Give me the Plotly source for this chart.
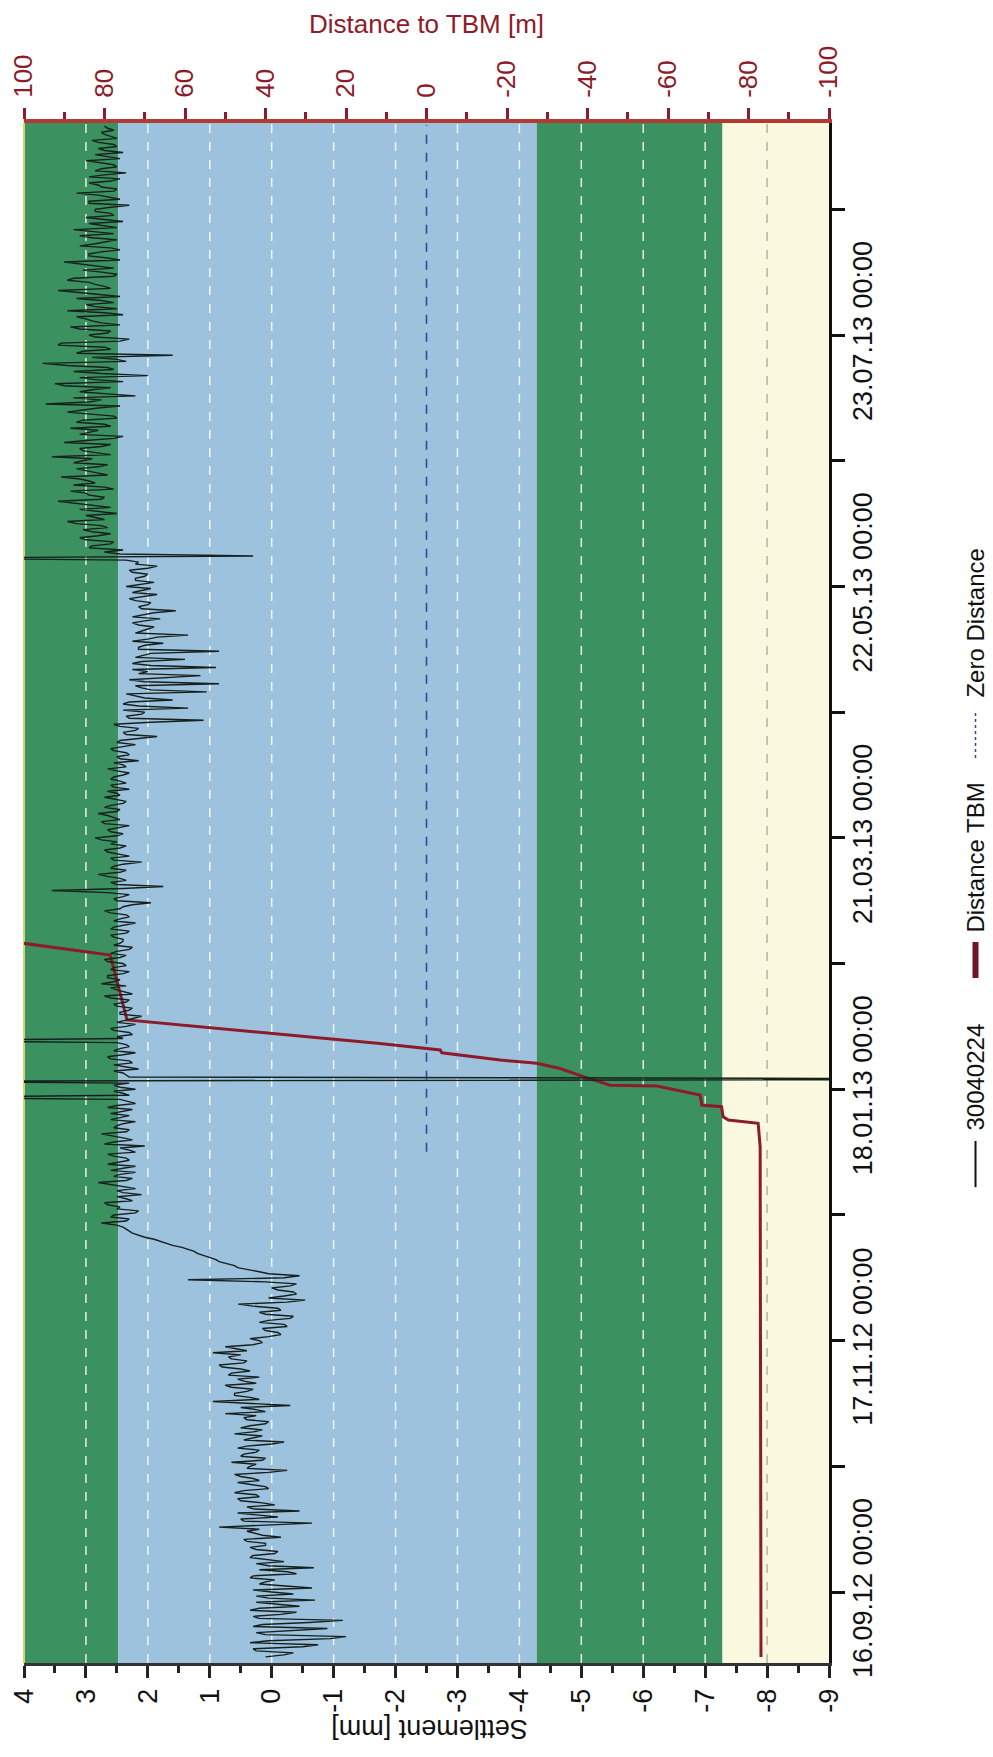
import plotly.graph_objects as go
import pandas as pd

FONT = "Liberation Sans, Arial, sans-serif"

# ---------------- data ----------------
origin = pd.Timestamp("2012-09-16")

# settlement readings of point 30040224 [mm]: 00:00 readings, one per day from 31.08.2012
settle_start = "2012-08-31"
settle_a = [0.10, -0.35, 0.30, -0.75, 0.05, -1.20, 0.25, -0.90, 0.15, -1.15, 0.30, -0.40, 0.20, -0.10, -0.70, 0.25,
            0.00, -0.65, 0.20, -0.05, 0.30, -0.25, -0.68, 0.25, 0.05, 0.30, -0.10, 0.35, 0.10, 0.45, 0.15, 0.40]
settle_b = [0.85, -0.65, 0.50, 0.20, -0.45, 0.40, 0.15, 0.55, 0.25, 0.45, 0.10, 0.55, 0.30, 0.60, -0.25, 0.35,
            0.65, 0.10, 0.45, 0.20, 0.40, -0.20, 0.30, 0.60, 0.15, 0.35, 0.05, 0.45, 0.75, 0.25, -0.30, 0.95]
settle_c = [0.35, 0.60, 0.30, 0.75, 0.45, 0.20, 0.65, 0.50, 0.85, 0.40, 0.70, 0.95, 0.55, 0.30, 0.20, 0.05]
settle_d = [-0.10, 0.15, -0.20, 0.05, -0.35, 0.20, -0.10, 0.54, -0.54, -0.20, -0.35, 0.00, -0.40, 1.35, -0.45]
settle_e = [0.20, 0.55, 0.75, 0.90, 1.10, 1.25, 1.45, 1.70, 1.90, 2.15, 2.30, 2.40]
settle_f = [2.75, 2.30, 2.55, 2.15, 2.45, 2.70, 2.35, 2.10, 2.50, 2.40, 2.80, 2.25, 2.45, 2.60, 2.20, 2.50,
            2.35, 2.65, 2.30, 2.05, 2.55, 2.40, 2.75, 2.30, 2.50, 2.20, 2.45, 2.60, 2.25, 2.50, 2.35, 6.00,
            2.40, 2.20, 2.55, 6.00, 2.30]
settle_g = [2.40, 2.15, 2.55, 2.30, 2.65, 2.20, 2.45, 2.35, 6.00, 2.50, 2.30, 2.60, 2.20, 2.35, 2.10, 2.45,
            2.25, 2.55, 2.30, 2.70, 2.40, 2.60, 2.75, 2.45, 2.65, 2.30, 2.55, 2.40, 2.70, 2.35, 2.50, 2.25, 2.45]
settle_h = [2.40, 2.60, 2.30, 2.55, 2.20, 2.45, 2.35, 2.70, 2.40, 1.95, 2.55, 2.30, 3.55, 1.75, 2.60, 2.45,
            2.80, 2.35, 2.55, 2.10, 2.60, 2.45, 2.70, 2.35, 2.50, 2.85, 2.40, 2.65, 2.30, 2.75, 2.55, 2.80,
            2.45, 2.60, 2.35, 2.70, 2.50, 2.30, 2.60, 2.45]
settle_i = [2.55, 2.30, 2.65, 2.40, 2.15, 2.50, 2.35, 2.60, 2.20, 2.45, 1.85, 2.40, 2.15, 2.55, 1.10, 2.35,
            2.05, 1.35, 2.40, 1.60, 2.20, 1.05, 2.10, 0.85, 2.30, 1.15, 2.00, 0.90, 2.25, 1.40, 2.05, 0.85,
            2.15, 1.75, 2.00, 1.35, 2.10, 1.90, 2.25, 1.80, 2.05, 1.55, 2.15, 1.95, 2.30, 1.85, 2.10, 2.35,
            1.90, 2.20, 2.00, 2.30, 1.85, 2.15, 6.00, 2.45, 2.40, 2.90, 2.55, 3.10]
settle_j = [2.60, 3.05, 2.75, 3.30, 2.85, 2.50, 3.10, 2.90, 3.45, 2.70, 3.00, 2.55, 3.20, 2.95, 3.40, 2.80,
            3.15, 2.65, 3.05, 3.55, 2.85, 3.10, 2.60, 3.00, 2.40, 2.95, 3.25, 2.70, 3.05, 2.55, 3.30, 2.80,
            3.65, 2.75, 2.20, 3.10, 2.60, 3.50, 2.85, 2.00, 3.20, 2.65, 3.70, 2.50, 1.60, 3.05, 2.70, 3.40,
            2.30, 2.95, 2.60, 3.25, 2.75, 3.00, 2.40, 3.30, 2.85, 2.55, 3.15, 2.80, 3.45, 2.70, 2.95, 3.20,
            2.50, 3.05, 2.85, 3.35, 2.65, 2.95, 2.45, 3.10, 2.70, 2.90, 2.55, 3.20, 2.75, 2.40, 3.00, 2.60,
            2.85, 2.30, 2.95, 2.65, 3.15, 2.50, 2.80, 2.60, 2.95, 2.35, 2.75, 2.55, 3.00, 2.65, 2.40, 2.80,
            2.55, 2.90, 2.60, 2.75, 2.65]

# 12:00 readings, one per day from 31.08.2012
noon_a = [-0.20, 0.25, -0.50, 0.35, -0.95, 0.10, -0.30, 0.30, -0.60, 0.20, -0.15, 0.35, -0.45, 0.25, 0.05, -0.35,
          0.30, -0.15, 0.10, 0.35, -0.40, 0.20, 0.05, -0.20, 0.35, -0.05, 0.25, 0.10, 0.40, -0.15, 0.30, 0.20]
noon_b = [0.10, 0.45, -0.10, 0.55, 0.30, -0.05, 0.50, 0.20, 0.60, 0.05, 0.35, 0.20, 0.50, 0.05, 0.40, 0.25,
          0.15, 0.50, 0.25, 0.55, 0.00, 0.45, 0.15, 0.30, 0.50, 0.10, 0.40, 0.25, 0.10, 0.50, 0.40, 0.20]
noon_c = [0.60, 0.40, 0.65, 0.25, 0.55, 0.70, 0.35, 0.80, 0.45, 0.65, 0.50, 0.40, 0.75, 0.15, 0.35, -0.15]
noon_d = [0.10, -0.25, 0.20, -0.30, 0.10, -0.15, 0.30, -0.25, 0.05, -0.40, -0.10, -0.30, 0.10, -0.20, 0.05]
noon_e = [0.40, 0.60, 0.85, 1.00, 1.20, 1.35, 1.60, 1.80, 2.05, 2.25, 2.35, 2.50]
noon_f = [2.35, 2.60, 2.20, 2.50, 2.65, 2.25, 2.50, 2.40, 2.20, 2.60, 2.35, 2.55, 2.20, 2.40, 2.65, 2.30,
          2.55, 2.20, 2.45, 2.70, 2.25, 2.60, 2.35, 2.55, 2.40, 2.60, 2.30, 2.40, 2.65, 2.20, 2.45, 2.30,
          2.55, 2.45, 2.30, -15.0, 2.35]
noon_g = [2.55, 2.35, 2.25, 2.60, 2.40, 2.55, 2.30, 2.50, 2.40, 2.25, 2.55, 2.35, 2.50, 2.20, 2.45, 2.30,
          2.50, 2.35, 2.60, 2.25, 2.50, 2.35, 2.55, 2.65, 2.40, 2.60, 2.35, 2.65, 2.45, 2.60, 2.30, 2.55, 2.40]
noon_h = [2.55, 2.35, 2.60, 2.40, 2.55, 2.30, 2.60, 2.45, 2.25, 2.50, 2.40, 2.65, 2.40, 2.50, 2.35, 2.65,
          2.45, 2.60, 2.40, 2.55, 2.30, 2.65, 2.45, 2.60, 2.75, 2.50, 2.60, 2.45, 2.70, 2.45, 2.65, 2.50,
          2.70, 2.40, 2.55, 2.45, 2.65, 2.55, 2.35, 2.60]
noon_i = [2.40, 2.50, 2.35, 2.55, 2.45, 2.30, 2.55, 2.40, 2.50, 2.15, 2.35, 2.20, 2.45, 1.95, 2.30, 2.10,
          2.40, 2.15, 2.30, 2.05, 2.35, 1.95, 2.20, 2.05, 1.80, 2.15, 2.25, 1.95, 2.10, 2.20, 1.95, 2.15,
          2.05, 2.25, 1.85, 2.20, 2.00, 2.15, 2.05, 2.25, 1.90, 2.10, 2.00, 2.20, 2.05, 2.25, 1.95, 2.10,
          2.20, 2.05, 2.25, 2.00, 2.20, 2.35, 0.30, 2.70, 2.95, 2.60, 3.00, 2.80]
noon_j = [2.90, 2.65, 3.15, 2.70, 3.00, 2.85, 2.60, 3.20, 2.75, 2.95, 3.25, 2.70, 2.85, 3.10, 2.65, 3.00,
          2.80, 3.20, 2.90, 2.60, 3.05, 2.75, 3.35, 2.55, 3.10, 2.80, 2.60, 3.15, 2.50, 2.90, 3.05, 2.45,
          2.95, 3.20, 2.65, 2.90, 3.35, 2.40, 3.10, 2.75, 2.55, 3.30, 2.35, 2.90, 3.15, 2.60, 3.45, 2.45,
          2.85, 2.65, 3.10, 2.45, 2.90, 3.15, 2.70, 2.50, 3.00, 2.75, 2.45, 3.05, 2.60, 2.85, 3.30, 2.55,
          2.75, 2.55, 3.10, 2.45, 2.95, 2.75, 2.60, 2.85, 2.50, 3.10, 2.85, 2.50, 2.95, 2.70, 2.55, 2.85,
          2.60, 2.95, 2.45, 2.80, 2.55, 2.75, 2.95, 2.45, 2.70, 2.85, 2.50, 2.80, 2.45, 2.85, 2.70, 2.50,
          2.80, 2.50, 2.70, 2.55, 2.70]

settle_midnight = settle_a + settle_b + settle_c + settle_d + settle_e + settle_f + settle_g + settle_h + settle_i + settle_j
settle_noon = noon_a + noon_b + noon_c + noon_d + noon_e + noon_f + noon_g + noon_h + noon_i + noon_j
mid_dates = pd.date_range(settle_start, periods=len(settle_midnight), freq="D")
noon_dates = mid_dates[:len(settle_noon)] + pd.Timedelta(hours=12)
settle_series = pd.concat([pd.Series(settle_midnight, index=mid_dates),
                           pd.Series(settle_noon, index=noon_dates)]).sort_index()

# distance to TBM [m], days after 16.09.2012
tbm_days = [-16.0, 109.8, 115.6, 116.4, 117.2, 119.7, 120.1, 122.6, 124.8, 125.0, 127.1, 129.1, 130.4,
            131.2, 133.0, 133.7, 135.3, 135.6, 141.1, 157.1, 160.0]
tbm_dist = [-83.1, -82.9, -82.4, -75.0, -73.7, -73.3, -68.4, -68.0, -57.2, -45.6, -39.0, -33.2, -27.4,
            -18.3, -3.8, -3.4, 11.6, 14.8, 74.4, 78.6, 100.2]
tbm_dates = origin + pd.to_timedelta(tbm_days, unit="D")

zero_days = [108.6, 361.8]
zero_dist = [0, 0]
zero_dates = origin + pd.to_timedelta(zero_days, unit="D")

# settlement bands (thresholds) and grid
band_edges = [4, 2.48, -4.28, -7.28, -9]
band_colors = ["#3c9161", "#9cc2de", "#3c9161", "#fbf8e0"]
grid_vals = [3, 2, 1, 0, -1, -2, -3, -4, -5, -6, -7, -8]

settle_ticks = list(range(4, -10, -1))
settle_minor = [v + 0.5 for v in range(-9, 4)]
dist_ticks = list(range(100, -101, -20))
dist_minor = list(range(90, -100, -20))
date_ticks = ["2012-09-16", "2012-11-17", "2013-01-18", "2013-03-21", "2013-05-22", "2013-07-23"]
date_minor = ["2012-10-17", "2012-12-18", "2013-02-18", "2013-04-21", "2013-06-22", "2013-08-23"]
date_labels = [pd.Timestamp(d).strftime("%d.%m.%y %H:%M") for d in date_ticks]
time_range = ["2012-08-29 12:00", "2013-09-13 07:00"]

MAROON = "#8e1b2a"

fig = go.Figure()

fig.add_trace(go.Scatter(x=zero_dist, y=zero_dates, xaxis="x", yaxis="y", mode="lines",
                         line=dict(color="#2c4aa0", width=1.6, dash="dash"), name="Zero Distance"))
fig.add_trace(go.Scatter(x=tbm_dist, y=tbm_dates, xaxis="x", yaxis="y", mode="lines",
                         line=dict(color=MAROON, width=3), name="Distance TBM"))
fig.add_trace(go.Scatter(x=settle_series.values, y=settle_series.index, xaxis="x2", yaxis="y", mode="lines",
                         line=dict(color="#17201c", width=1.4), name="30040224"))

shapes = []
for i in range(len(band_colors)):
    shapes.append(dict(type="rect", xref="x2", yref="y domain", x0=band_edges[i], x1=band_edges[i + 1],
                       y0=0, y1=1, fillcolor=band_colors[i], line=dict(width=0), layer="below"))
for g in grid_vals:
    col = "#b4b4a4" if g <= -8 else "rgba(255,255,255,0.85)"
    shapes.append(dict(type="line", xref="x2", yref="y domain", x0=g, x1=g, y0=0, y1=1,
                       line=dict(color=col, width=1.5, dash="dash"), layer="below"))
# left border line of plot
shapes.append(dict(type="line", xref="paper", yref="paper", x0=0, x1=0, y0=0, y1=1,
                   line=dict(color="#d4d66a", width=2), layer="below"))

# legend (rotated)
LX = 1.182
shapes.append(dict(type="line", xref="paper", yref="paper", x0=LX, x1=LX, y0=0.309, y1=0.339,
                   line=dict(color="#111111", width=2)))
shapes.append(dict(type="line", xref="paper", yref="paper", x0=LX, x1=LX, y0=0.4448, y1=0.4682,
                   line=dict(color="#6e1426", width=6)))
shapes.append(dict(type="line", xref="paper", yref="paper", x0=LX, x1=LX, y0=0.5877, y1=0.6188,
                   line=dict(color="#2c4aa0", width=1.5, dash="dot")))

annotations = [
    dict(text="30040224", x=LX, y=0.3805, xref="paper", yref="paper", textangle=-90, showarrow=False,
         xanchor="center", yanchor="middle", font=dict(family=FONT, size=24, color="#111111")),
    dict(text="Distance TBM", x=LX, y=0.5227, xref="paper", yref="paper", textangle=-90, showarrow=False,
         xanchor="center", yanchor="middle", font=dict(family=FONT, size=24, color="#111111")),
    dict(text="Zero Distance", x=LX, y=0.6753, xref="paper", yref="paper", textangle=-90, showarrow=False,
         xanchor="center", yanchor="middle", font=dict(family=FONT, size=24, color="#111111")),
    dict(text="Distance to TBM [m]", x=0.4994, y=1.064, xref="paper", yref="paper", showarrow=False,
         xanchor="center", yanchor="middle", font=dict(family=FONT, size=26, color=MAROON)),
    dict(text="Settlement [mm]", x=0.503, y=-0.0425, xref="paper", yref="paper", textangle=180,
         showarrow=False, xanchor="center", yanchor="middle", font=dict(family=FONT, size=27, color="#111111")),
]

fig.update_layout(
    width=985, height=1749,
    margin=dict(l=16, r=164, t=115, b=94, autoexpand=False),
    paper_bgcolor="white", plot_bgcolor="white",
    showlegend=False,
    shapes=shapes, annotations=annotations,
    xaxis=dict(range=[100, -100], side="top", anchor="y", automargin=False,
               tickmode="array", tickvals=dist_ticks, ticktext=[str(v) for v in dist_ticks],
               tickangle=-90, ticks="outside", ticklen=11, tickwidth=2.5, tickcolor=MAROON,
               ticklabelstandoff=5,
               tickfont=dict(family=FONT, size=26, color=MAROON),
               showline=True, linecolor="#b23a35", linewidth=4, showgrid=False, zeroline=False,
               minor=dict(tickmode="array", tickvals=dist_minor, ticks="outside", ticklen=7, tickwidth=2.5,
                          tickcolor=MAROON, showgrid=False)),
    xaxis2=dict(range=[4, -9], overlaying="x", side="bottom", anchor="y", automargin=False,
                tickmode="array", tickvals=settle_ticks, ticktext=[str(v) for v in settle_ticks],
                tickangle=-90, ticks="outside", ticklen=12, tickwidth=2.5, tickcolor="#222222",
                tickfont=dict(family=FONT, size=27, color="#111111"),
                showline=True, linecolor="#333333", linewidth=3, showgrid=False, zeroline=False,
                minor=dict(tickmode="array", tickvals=settle_minor, ticks="outside", ticklen=7, tickwidth=2.5,
                           tickcolor="#222222", showgrid=False)),
    yaxis=dict(type="date", range=time_range, side="right", anchor="x", automargin=False,
               tickmode="array", tickvals=date_ticks, ticktext=date_labels,
               tickangle=-90, ticks="outside", ticklen=13, tickwidth=2.5, tickcolor="#111111",
               ticklabelstandoff=-5,
               tickfont=dict(family=FONT, size=27, color="#111111"),
               showline=True, linecolor="#111111", linewidth=3, showgrid=False, zeroline=False,
               minor=dict(tickmode="array", tickvals=date_minor, ticks="outside", ticklen=13, tickwidth=2.5,
                          tickcolor="#111111", showgrid=False)),
)

fig.write_html("out.html")
